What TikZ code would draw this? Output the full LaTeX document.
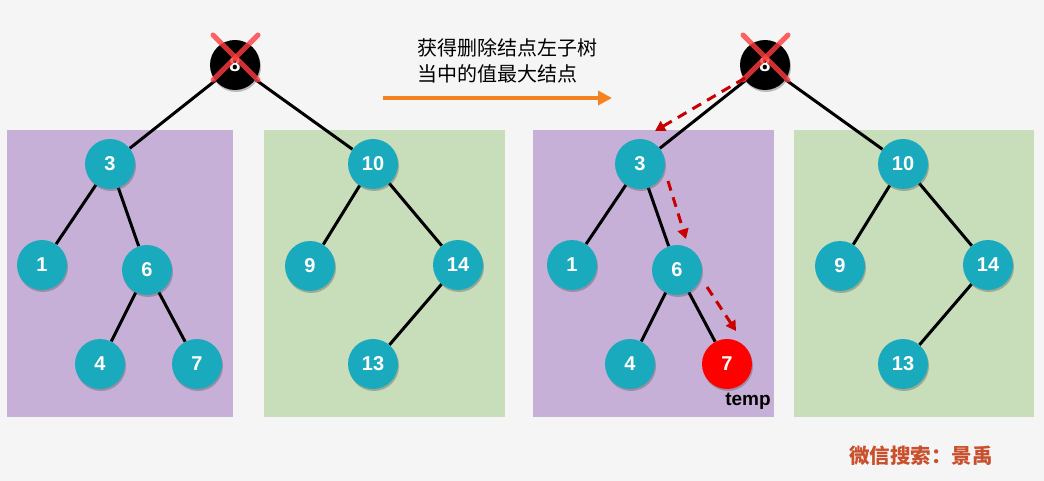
\documentclass[tikz,border=0pt]{standalone}
\usepackage{fontspec}
\setmainfont{Liberation Sans}
\newfontfamily\cjk{Noto Sans CJK SC}
\usetikzlibrary{arrows.meta,shadows}
\pgfdeclarelayer{panels}
\pgfdeclarelayer{edges}
\pgfsetlayers{panels,edges,main}
\definecolor{bg}{RGB}{245,245,245}
\definecolor{lpurple}{RGB}{199,176,216}
\definecolor{lgreen}{RGB}{200,221,186}
\definecolor{teal}{RGB}{26,170,190}
\definecolor{orng}{RGB}{245,130,32}
\definecolor{dred}{RGB}{200,0,0}
\definecolor{xred}{RGB}{255,60,60}
\definecolor{wm}{RGB}{200,80,45}
\tikzset{
  tn/.style={circle,fill=teal,minimum size=50pt,inner sep=0pt,text=white,
    font=\fontsize{20}{20}\selectfont\bfseries,
    drop shadow={shadow xshift=1pt,shadow yshift=-2pt,opacity=0.35,fill=black!70}},
  rootn/.style={tn,fill=black},
  redn/.style={tn,fill=red},
  edge/.style={line width=3pt,black},
  trace/.style={line width=3pt,dred,dash pattern=on 10pt off 7pt,-{Triangle[length=10pt,width=11pt]}},
  cross/.style={line width=5pt,xred,opacity=0.8,line cap=round}
}
\begin{document}
\begin{tikzpicture}[x=1pt,y=-1pt]
\begin{pgfonlayer}{panels}
\fill[bg] (0,0) rectangle (1044,481);
\fill[lpurple] (7,130) rectangle (233,417);
\fill[lgreen] (264,130) rectangle (505,417);
\fill[lpurple] (533,130) rectangle (774,417);
\fill[lgreen] (794,130) rectangle (1034,417);
\end{pgfonlayer}
\useasboundingbox (0,0) rectangle (1044,481);
% left tree nodes
\node[rootn] (a8) at (235,65) {8};
\node[tn] (a3) at (110,164) {3};
\node[tn] (a1) at (42,265) {1};
\node[tn] (a6) at (147,270) {6};
\node[tn] (a4) at (100,364) {4};
\node[tn] (a7) at (197,364) {7};
\node[tn] (a10) at (373,164) {10};
\node[tn] (a9) at (310,266) {9};
\node[tn] (a14) at (458,265) {14};
\node[tn] (a13) at (373,364) {13};
% right tree nodes
\node[rootn] (b8) at (765,65) {8};
\node[tn] (b3) at (640,164) {3};
\node[tn] (b1) at (572,265) {1};
\node[tn] (b6) at (677,270) {6};
\node[tn] (b4) at (630,364) {4};
\node[redn] (b7) at (727,364) {7};
\node[tn] (b10) at (903,164) {10};
\node[tn] (b9) at (840,266) {9};
\node[tn] (b14) at (988,265) {14};
\node[tn] (b13) at (903,364) {13};
% edges
\begin{pgfonlayer}{edges}
\foreach \p in {a,b}{
  \draw[edge] (\p8) -- (\p3);
  \draw[edge] (\p8) -- (\p10);
  \draw[edge] (\p3) -- (\p1);
  \draw[edge] (\p3) -- (\p6);
  \draw[edge] (\p6) -- (\p4);
  \draw[edge] (\p6) -- (\p7);
  \draw[edge] (\p10) -- (\p9);
  \draw[edge] (\p10) -- (\p14);
  \draw[edge] (\p14) -- (\p13);
}
\end{pgfonlayer}
% crosses
\draw[cross] (213,35) -- (258,80);
\draw[cross] (258,35) -- (213,80);
\draw[cross] (743,35) -- (788,80);
\draw[cross] (788,35) -- (743,80);
% label and arrow
\node[anchor=west,font=\cjk\fontsize{20}{26}\selectfont,align=left,inner sep=0pt] (lbl) at (417,61) {获得删除结点左子树\\当中的值最大结点};
\coordinate (arS) at (383,98);
\coordinate (arE) at (612,98);
\draw[orng,line width=4pt,-{Triangle[length=14pt,width=14pt]}] (arS) -- (arE);
% traces
\coordinate (t1s) at (745,78);
\coordinate (t1e) at (655,131);
\coordinate (t2s) at (668,181);
\coordinate (t2e) at (686,239);
\coordinate (t3s) at (707,287);
\coordinate (t3e) at (736,331);
\draw[trace] (t1s) -- (t1e);
\draw[trace] (t2s) -- (t2e);
\draw[trace] (t3s) -- (t3e);
% temp
\node[font=\fontsize{19}{19}\selectfont\bfseries,inner sep=0pt] (temp) at (748,401) {temp};
% watermark
\node[font=\cjk\fontsize{20.5}{20.5}\selectfont\bfseries,text=wm,inner sep=0pt,anchor=west] (wmk) at (849,456) {微信搜索：景禹};
\end{tikzpicture}
\end{document}
